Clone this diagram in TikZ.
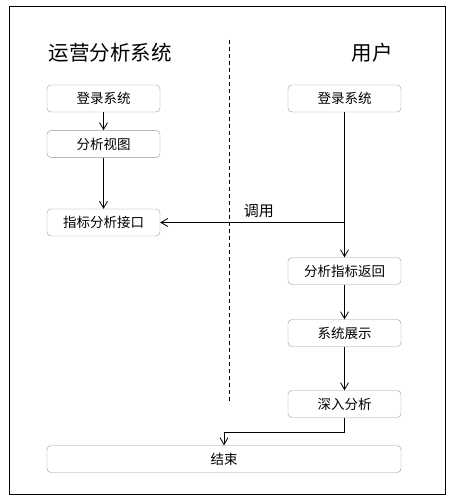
\documentclass[tikz,border=0pt]{standalone}
\usepackage{fontspec}
\setmainfont{Noto Sans CJK SC}
\usetikzlibrary{arrows.meta, positioning}

\begin{document}
\begin{tikzpicture}[x=1pt, y=-1pt,
        box/.style={rectangle, draw=gray!80, rounded corners=4pt, minimum height=27pt, minimum width=113pt, align=center, inner sep=0pt, font=\fontsize{13.5}{15}\selectfont},
        title/.style={font=\fontsize{20.5}{24}\selectfont},
        arrow/.style={-{Straight Barb[length=2.4mm, width=2.8mm]}, line width=0.8pt}
    ]
        \useasboundingbox (0,0) rectangle (455,502);
        \draw[line width=0.8pt] (9,6) rectangle (445,494);

        % Lanes
        \node[title] (systitle) at (110,53) {运营分析系统};
        \node[title] (usertitle) at (372,53) {用户};
        \draw[dashed, dash pattern=on 4pt off 3pt, line width=0.8pt] (229,40) -- (229,404);

        % Operations system
        \node[box] (slogin) at (103.5,98.5) {登录系统};
        \node[box, below=18pt of slogin] (sview) {分析视图};
        \node[box] (sapi) at (103.5,222.5) {指标分析接口};

        % User
        \node[box] (ulogin) at (344.5,98.5) {登录系统};
        \node[box] (ureturn) at (344.5,271) {分析指标返回};
        \node[box] (ushow) at (344.5,333) {系统展示};
        \node[box] (udeep) at (344.5,404) {深入分析};

        \node[box, minimum width=354pt] (finish) at (224,459) {结束};

        % Connections
        \coordinate (split) at (ulogin.south |- sapi.east);
        \draw[arrow] (slogin) -- (sview);
        \draw[arrow] (sview) -- (sapi);
        \draw[arrow] (ulogin) -- (ureturn);
        \draw[arrow] (split) -- node[pos=0.465, above=1pt, font=\fontsize{15}{17}\selectfont] (call) {调用} (sapi.east);
        \draw[arrow] (ureturn) -- (ushow);
        \draw[arrow] (ushow) -- (udeep);
        \draw[arrow] (udeep.south) |- (224,432) -- (finish.north);
    \end{tikzpicture}
\end{document}
